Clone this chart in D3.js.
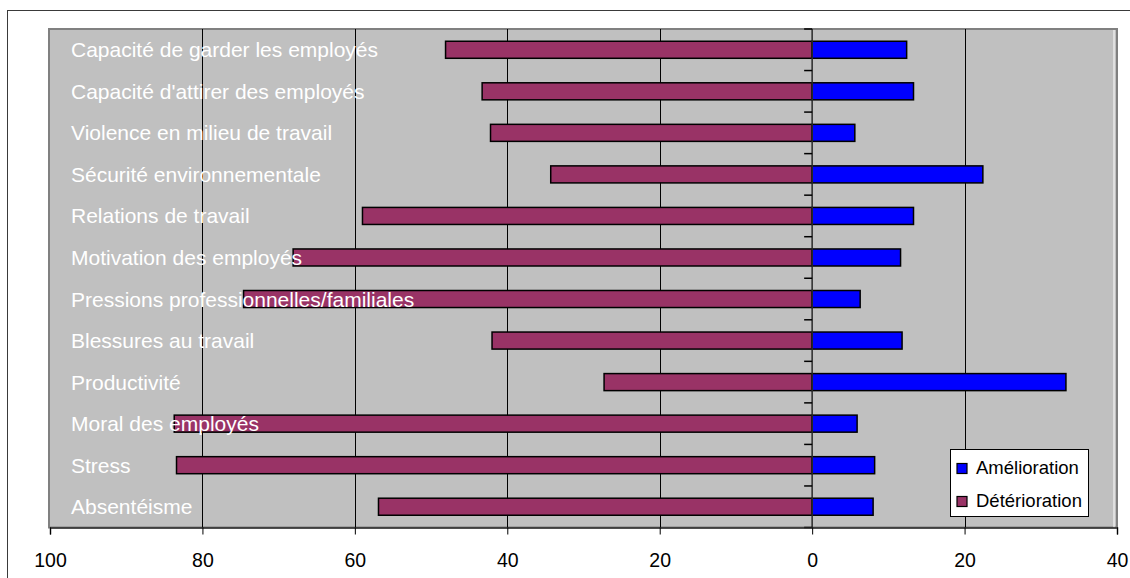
<!DOCTYPE html>
<html>
<head>
<meta charset="utf-8">
<script src="https://cdn.jsdelivr.net/npm/d3@7"></script>
<style>
  html, body { margin: 0; padding: 0; background: #ffffff; }
  svg { display: block; }
  text { font-family: "Liberation Sans", Arial, sans-serif; }
</style>
</head>
<body>
<svg id="chart" width="1130" height="578"></svg>
<script>
const categories = [
  "Capacité de garder les employés",
  "Capacité d'attirer des employés",
  "Violence en milieu de travail",
  "Sécurité environnementale",
  "Relations de travail",
  "Motivation des employés",
  "Pressions professionnelles/familiales",
  "Blessures au travail",
  "Productivité",
  "Moral des employés",
  "Stress",
  "Absentéisme"
];
const amelioration  = [12.4, 13.3, 5.6, 22.4, 13.3, 11.6, 6.3, 11.8, 33.3, 5.9, 8.2, 8.0];
const deterioration = [48.1, 43.3, 42.2, 34.3, 59.0, 68.1, 74.6, 42.0, 27.3, 83.7, 83.4, 56.9];
const tickValues = [-100, -80, -60, -40, -20, 0, 20, 40];
const seriesNames = ["Amélioration", "Détérioration"];
const seriesColors = ["#0000ff", "#993366"];

(function () {
const svg = d3.select("#chart");
const pLeft = 50, pRight = 1117, pTop = 29, pBottom = 527.5;

const x = d3.scaleLinear().domain([-100, 40]).range([pLeft, pRight]);
const y = d3.scaleBand().domain(categories).range([pTop, pBottom]).padding(0);
const barH = y.bandwidth() * 0.41;
const cy = c => y(c) + y.bandwidth() / 2;

// outer chart frame
svg.append("rect")
  .attr("x", 7.5).attr("y", 10.5)
  .attr("width", 1140).attr("height", 600)
  .attr("fill", "none").attr("stroke", "#3a3a3a").attr("stroke-width", 1);

// plot area
svg.append("rect")
  .attr("x", pLeft - 1).attr("y", pTop)
  .attr("width", pRight - pLeft + 1).attr("height", pBottom - pTop)
  .attr("fill", "#c0c0c0")
  .attr("stroke", "#808080").attr("stroke-width", 2);
svg.append("line")
  .attr("x1", pRight - 3).attr("x2", pRight - 3)
  .attr("y1", pTop + 1).attr("y2", pBottom)
  .attr("stroke", "#ffffff").attr("stroke-width", 1);

// gridlines
svg.append("g").selectAll("line")
  .data(tickValues.filter(v => v !== 0 && v !== -100 && v !== 40))
  .join("line")
  .attr("x1", d => Math.round(x(d)) + 0.5).attr("x2", d => Math.round(x(d)) + 0.5)
  .attr("y1", pTop).attr("y2", pBottom)
  .attr("stroke", "#000000").attr("stroke-width", 1);

// bars
const rows = categories.map((c, i) => ({ c, a: amelioration[i], d: deterioration[i] }));
svg.append("g").selectAll("rect")
  .data(rows).join("rect")
  .attr("x", d => x(-d.d)).attr("y", d => cy(d.c) - barH / 2)
  .attr("width", d => x(0) - x(-d.d)).attr("height", barH)
  .attr("fill", seriesColors[1]).attr("stroke", "#000").attr("stroke-width", 1.5);
svg.append("g").selectAll("rect")
  .data(rows).join("rect")
  .attr("x", x(0)).attr("y", d => cy(d.c) - barH / 2)
  .attr("width", d => x(d.a) - x(0)).attr("height", barH)
  .attr("fill", seriesColors[0]).attr("stroke", "#000").attr("stroke-width", 1.5);

// zero (category) axis with tick marks at band boundaries
svg.append("line")
  .attr("x1", x(0)).attr("x2", x(0))
  .attr("y1", pTop).attr("y2", pBottom)
  .attr("stroke", "#2a2a2a").attr("stroke-width", 1.5);
svg.append("g").selectAll("line")
  .data(d3.range(categories.length + 1))
  .join("line")
  .attr("x1", x(0) - 8).attr("x2", x(0))
  .attr("y1", i => pTop + i * y.step()).attr("y2", i => pTop + i * y.step())
  .attr("stroke", "#000").attr("stroke-width", 1.5);

// category labels (inside plot area)
svg.append("g").selectAll("text")
  .data(categories).join("text")
  .attr("x", 71).attr("y", d => cy(d) + 7.5)
  .attr("fill", "#ffffff")
  .attr("font-size", 21)
  .text(d => d);

// bottom value axis
const xAxis = d3.axisBottom(x)
  .tickValues(tickValues)
  .tickSize(7)
  .tickPadding(0)
  .tickFormat(d => Math.abs(d));
const gx = svg.append("g").attr("transform", `translate(0,${pBottom})`).call(xAxis);
gx.select(".domain").attr("stroke", "#2a2a2a").attr("stroke-width", 1.5);
gx.selectAll(".tick line").attr("stroke", "#000");
gx.selectAll(".tick text")
  .attr("font-family", "'Liberation Sans', Arial, sans-serif")
  .attr("font-size", 19.5)
  .attr("fill", "#000")
  .attr("dy", null)
  .attr("y", 39.5);

// legend
const lg = svg.append("g");
lg.append("rect")
  .attr("x", 950.5).attr("y", 449.5).attr("width", 138).attr("height", 67)
  .attr("fill", "#ffffff").attr("stroke", "#000").attr("stroke-width", 1);
const items = lg.selectAll("g.item").data(seriesNames).join("g").attr("class", "item")
  .attr("transform", (d, i) => `translate(957,${463.5 + i * 33})`);
items.append("rect")
  .attr("width", 10).attr("height", 10)
  .attr("fill", (d, i) => seriesColors[i])
  .attr("stroke", "#000").attr("stroke-width", 1.2);
items.append("text")
  .attr("x", 19).attr("y", 10.5)
  .attr("font-size", 18.5).attr("fill", "#000")
  .text(d => d);
})();
</script>
</body>
</html>
